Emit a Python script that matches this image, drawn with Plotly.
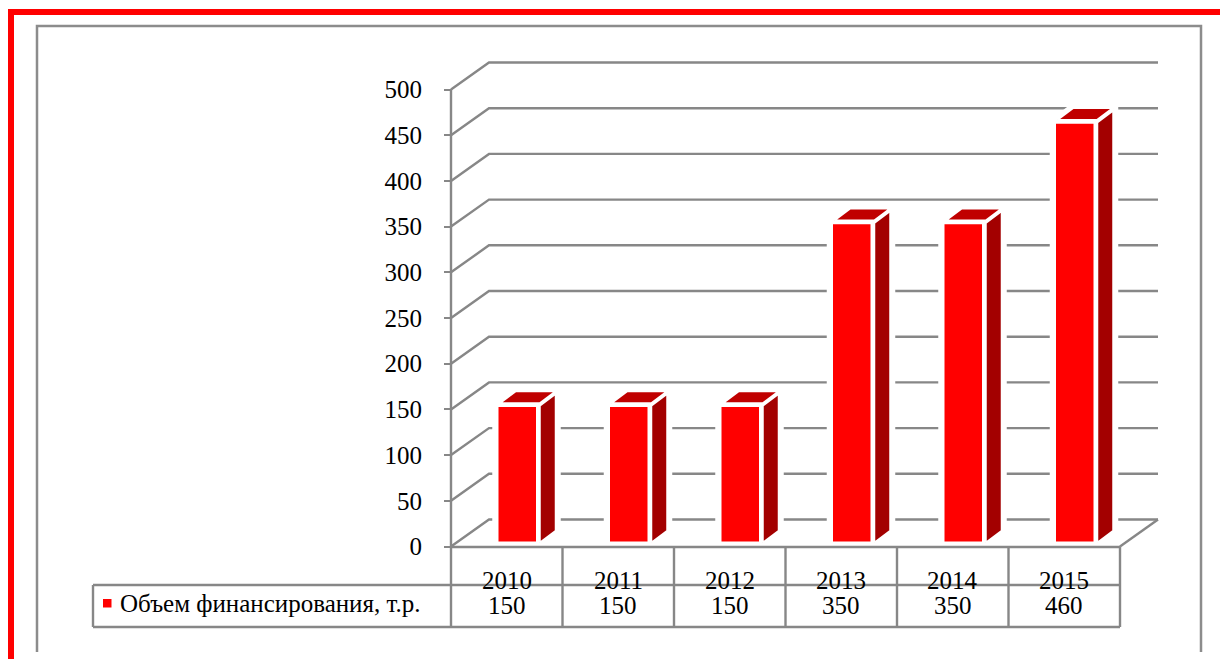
import plotly.graph_objects as go

# ---- data ---------------------------------------------------------------
years = ["2010", "2011", "2012", "2013", "2014", "2015"]
funding = [150, 150, 150, 350, 350, 460]
tick_values = [0, 50, 100, 150, 200, 250, 300, 350, 400, 450, 500]
series_name = "Объем финансирования, т.р."

# ---- page geometry (pixels) ---------------------------------------------
W, H = 1220, 659
AXIS_X = 451          # front vertical axis
COL_W = 111.5         # width of one category column
ZERO_Y = 546.5        # value 0 on the front plane
PX_PER_UNIT = 0.914   # vertical scale
WALL_DX, WALL_DY = 38, 27      # depth of the side wall / floor
BAR_SHIFT = 10.5               # bars stand a little behind the front plane
BAR_BASE = 4                   # value units
BAR_W_PX = 40
BAR_DX, BAR_DY = 16, 12        # depth of each column
GAP = 2.5                      # white seam between the faces of a column
ROW1_Y, ROW2_Y, ROW3_Y = 547, 585, 627
LEGEND_X = 93

FONT = "Liberation Serif"
GRID = "#878787"
RED, RED_TOP, RED_SIDE = "#ff0000", "#c00000", "#a30000"


def px_x(px):          # pixel -> paper x
    return px / W


def px_y(py):          # pixel -> paper y
    return 1 - py / H


def u_px(u):           # category units -> pixel x
    return AXIS_X + u * COL_W


du_wall = WALL_DX / COL_W
dv_wall = WALL_DY / PX_PER_UNIT
du_bar = BAR_DX / COL_W
dv_bar = BAR_DY / PX_PER_UNIT
du_gap = GAP / COL_W
dv_gap = GAP / PX_PER_UNIT
bar_w = BAR_W_PX / COL_W
n = len(years)
LW = 2.4

shapes = []

# walls: side-wall diagonals and back-wall gridlines
for tv in tick_values:
    shapes.append(dict(
        type="path", xref="x", yref="y", layer="below",
        path=f"M 0,{tv} L {du_wall},{tv + dv_wall} L {n + du_wall},{tv + dv_wall}",
        line=dict(color=GRID, width=LW)))
# floor right edge
shapes.append(dict(type="line", xref="x", yref="y", layer="below",
                   x0=n, y0=0, x1=n + du_wall, y1=dv_wall,
                   line=dict(color=GRID, width=LW)))

# white halo behind each column hides the wall lines around it
centers = [i + 0.5 + BAR_SHIFT / COL_W for i in range(n)]
for c, v in zip(centers, funding):
    x0, x1 = c - bar_w / 2, c + bar_w / 2
    b, t = BAR_BASE, BAR_BASE + v
    shapes.append(dict(
        type="path", xref="x", yref="y", layer="below",
        path=(f"M {x0},{b} L {x0},{t} L {x0 + du_bar},{t + dv_bar} "
              f"L {x1 + du_bar + du_gap},{t + dv_bar} L {x1 + du_bar + du_gap},{b + dv_bar} L {x1},{b} Z"),
        fillcolor="white", line=dict(color="white", width=10)))

# front axis line
shapes.append(dict(type="line", xref="x", yref="y", x0=0, y0=0, x1=0, y1=tick_values[-1],
                   line=dict(color=GRID, width=LW)))

# data table grid
tbl = dict(color=GRID, width=LW)
right = px_x(u_px(n))
shapes += [
    dict(type="line", xref="paper", yref="paper", x0=px_x(u_px(0)), x1=right,
         y0=px_y(ROW1_Y), y1=px_y(ROW1_Y), line=tbl),
    dict(type="line", xref="paper", yref="paper", x0=px_x(LEGEND_X), x1=right,
         y0=px_y(ROW2_Y), y1=px_y(ROW2_Y), line=tbl),
    dict(type="line", xref="paper", yref="paper", x0=px_x(LEGEND_X), x1=right,
         y0=px_y(ROW3_Y), y1=px_y(ROW3_Y), line=tbl),
    dict(type="line", xref="paper", yref="paper", x0=px_x(LEGEND_X), x1=px_x(LEGEND_X),
         y0=px_y(ROW2_Y), y1=px_y(ROW3_Y), line=tbl),
]
for i in range(n + 1):
    shapes.append(dict(type="line", xref="paper", yref="paper",
                       x0=px_x(u_px(i)), x1=px_x(u_px(i)),
                       y0=px_y(ROW1_Y), y1=px_y(ROW3_Y), line=tbl))
# legend key
shapes.append(dict(type="rect", xref="paper", yref="paper",
                   x0=px_x(103), x1=px_x(111.5), y0=px_y(599), y1=px_y(607.5),
                   fillcolor=RED, line=dict(width=0)))

# outer frames
shapes.append(dict(type="path", xref="paper", yref="paper",
                   path=(f"M {px_x(37)},{px_y(652)} L {px_x(37)},{px_y(26)} "
                         f"L {px_x(1201)},{px_y(26)} L {px_x(1201)},{px_y(652)}"),
                   line=dict(color="#8c8c8c", width=2.5)))
shapes.append(dict(type="path", xref="paper", yref="paper",
                   path=(f"M {px_x(11)},{px_y(H + 20)} L {px_x(11)},{px_y(12)} "
                         f"L {px_x(W + 20)},{px_y(12)}"),
                   line=dict(color=RED, width=6)))

# ---- traces -------------------------------------------------------------
fig = go.Figure()

fig.add_trace(go.Bar(
    x=centers, y=funding, base=BAR_BASE, width=bar_w,
    marker=dict(color=RED, line=dict(color="white", width=2.5)),
    name=series_name, showlegend=False, hoverinfo="skip"))

side_x, side_y, top_x, top_y = [], [], [], []
for c, v in zip(centers, funding):
    x0, x1 = c - bar_w / 2, c + bar_w / 2
    b, t = BAR_BASE, BAR_BASE + v
    sx = x1 + du_gap
    side_x += [sx, sx, sx + du_bar, sx + du_bar, sx, None]
    side_y += [b, t, t + dv_bar, b + dv_bar, b, None]
    ty = t + dv_gap
    top_x += [x0 + du_gap, x1 + du_gap, x1 + du_gap + du_bar, x0 + du_gap + du_bar, x0 + du_gap, None]
    top_y += [ty, ty, ty + dv_bar, ty + dv_bar, ty, None]

fig.add_trace(go.Scatter(x=side_x, y=side_y, mode="lines", fill="toself",
                         fillcolor=RED_SIDE, line=dict(color="white", width=2),
                         showlegend=False, hoverinfo="skip"))
fig.add_trace(go.Scatter(x=top_x, y=top_y, mode="lines", fill="toself",
                         fillcolor=RED_TOP, line=dict(color="white", width=2),
                         showlegend=False, hoverinfo="skip"))

# ---- table text ---------------------------------------------------------
annotations = []
for i, (yr, v) in enumerate(zip(years, funding)):
    annotations.append(dict(xref="paper", yref="paper", x=px_x(u_px(i + 0.5)), y=px_y(580),
                            text=yr, showarrow=False, xanchor="center", yanchor="middle",
                            font=dict(family=FONT, size=25, color="black")))
    annotations.append(dict(xref="paper", yref="paper", x=px_x(u_px(i + 0.5)), y=px_y(605),
                            text=str(v), showarrow=False, xanchor="center", yanchor="middle",
                            font=dict(family=FONT, size=25, color="black")))
annotations.append(dict(xref="paper", yref="paper", x=px_x(118), y=px_y(603),
                        text=series_name, showarrow=False, xanchor="left", yanchor="middle",
                        font=dict(family=FONT, size=25, color="black")))

fig.update_layout(
    template="none",
    width=W, height=H, autosize=False,
    margin=dict(l=0, r=0, t=0, b=0),
    paper_bgcolor="white", plot_bgcolor="white",
    showlegend=False,
    font=dict(family=FONT),
    shapes=shapes, annotations=annotations,
    xaxis=dict(range=[-AXIS_X / COL_W, (W - AXIS_X) / COL_W], visible=False,
               fixedrange=True, automargin=False),
    yaxis=dict(range=[-(H - ZERO_Y) / PX_PER_UNIT, ZERO_Y / PX_PER_UNIT],
               tickvals=tick_values, ticktext=[str(t) for t in tick_values],
               ticks="outside", ticklen=7, tickwidth=LW, tickcolor=GRID,
               ticklabelstandoff=17,
               tickfont=dict(family=FONT, size=25, color="black"),
               showgrid=False, zeroline=False, showline=False,
               anchor="free", position=AXIS_X / W, side="left",
               fixedrange=True, automargin=False),
)

fig.write_html("out.html")
